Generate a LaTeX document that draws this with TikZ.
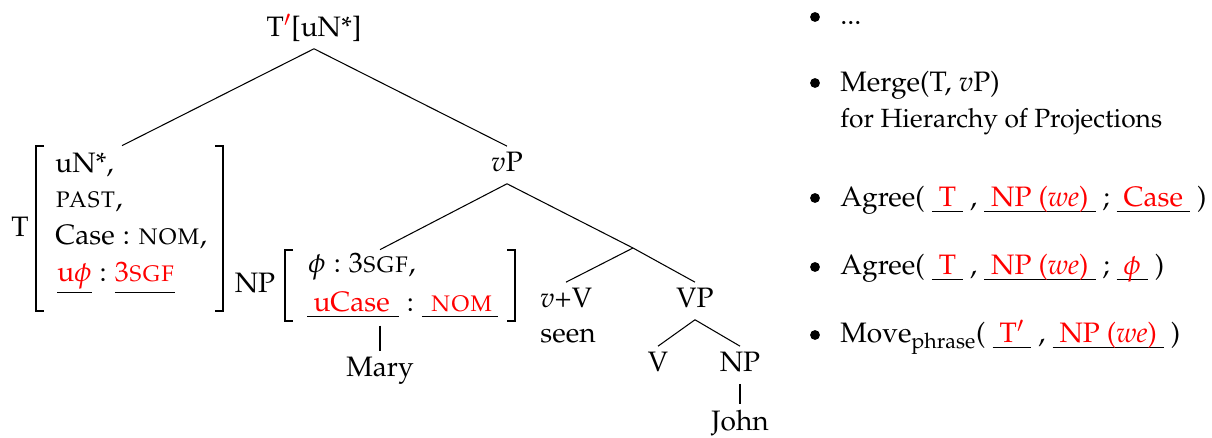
\documentclass[tikz,border=0pt]{standalone}
\usepackage[T1]{fontenc}
\usepackage{mathpazo}
\usepackage{xcolor}
\usetikzlibrary{fit}
\definecolor{hred}{RGB}{255,0,0}
\newcommand\fs{\fontsize{16}{19}\selectfont}
\newcommand\rd[1]{\textcolor{hred}{#1}}
\newcommand\uln[2][2.6pt]{\setbox0\hbox{#2}\rlap{\rule[-#1]{\wd0}{0.45pt}}\box0\relax}
\tikzset{
  tn/.style={anchor=base, text height=13pt, text depth=5pt, inner sep=1.5pt},
  txt/.style={anchor=base west, inner sep=0pt},
  edge/.style={line width=0.6pt},
  brk/.style={line width=1pt},
  bul/.style={circle, fill, inner sep=0pt, minimum size=5.6pt},
  box/.style={inner sep=0pt}
}
\begin{document}
\begin{tikzpicture}[x=0.02cm,y=-0.02cm, every node/.style={font=\fs}]
\useasboundingbox (0,0) rectangle (1212,438);
% ---- tree
\node[tn] (top) at (314,37) {T\rd{$'$}[uN*]};
\node[tn] (vP) at (507,172) {$v$P};
\coordinate (vbar) at (633,248);
\node[tn] (vV) at (566,308) {$v$+V};
\node[tn] (seen) at (568,342) {seen};
\node[tn] (VP) at (695,308) {VP};
\node[tn] (V) at (658,372) {V};
\node[tn] (NPj) at (740,372) {NP};
\node[tn] (John) at (740,430) {John};
% ---- T feature matrix
\node[tn] (Tl) at (20,237) {T};
\node[txt] (t1) at (55,173) {uN*,};
\node[txt] (t2) at (55,208) {\textsc{past},};
\node[txt] (t3) at (55,245) {Case${}:{}$\textsc{nom},};
\node[txt] (t4) at (57,282) {\uln[6.3pt]{\rd{u$\phi$}}${}:{}$\uln[6.3pt]{\rd{3\textsc{sgf}}}};
\draw[brk] (44,146) -- (36,146) -- (36,311) -- (44,311);
\draw[brk] (215,146) -- (223,146) -- (223,311) -- (215,311);
\coordinate (Tnw) at (21,146);
\coordinate (Tse) at (223,311);
\node[box, fit=(Tnw)(Tse)] (Tm) {};
% ---- NP feature matrix
\node[tn] (NPl) at (255,293) {NP};
\node[txt] (n1) at (308,273) {$\phi{}:{}$3\textsc{sgf},};
\node[txt] (n2) at (307,312) {\uln{\hspace{3.5pt}\rd{uCase}\hspace{5pt}}${}:{}$\uln{\hspace{5pt}\rd{\textsc{nom}}\hspace{3pt}}};
\draw[brk] (293,250) -- (285,250) -- (285,321) -- (293,321);
\draw[brk] (507,250) -- (515,250) -- (515,321) -- (507,321);
\coordinate (Nnw) at (245,250);
\coordinate (Nse) at (515,321);
\node[box, fit=(Nnw)(Nse)] (NPm) {};
\node[tn] (Mary) at (380,377) {Mary};
% ---- connectors
\draw[edge] (top.south) -- (Tm.north);
\draw[edge] (top.south) -- (vP.north);
\draw[edge] (vP.south) -- (NPm.north);
\draw[edge] (vP.south) -- (vbar);
\draw[edge] (vbar) -- (vV.north);
\draw[edge] (vbar) -- (VP.north);
\draw[edge] (VP.south) -- (V.north);
\draw[edge] (VP.south) -- (NPj.north);
\draw[edge] (NPj.south) -- (John.north);
\draw[edge] ([yshift=-2.5pt]NPm.south) -- (Mary.north);
% ---- list
\node[bul] (b1) at (815,17) {};
\node[bul] (b2) at (815,83) {};
\node[bul] (b3) at (815,198) {};
\node[bul] (b4) at (815,267) {};
\node[bul] (b5) at (815,335) {};
\node[txt] (l1) at (840,25) {...};
\node[txt] (l2) at (840,92) {Merge(T, $v$P)};
\node[txt, font=\fontsize{15}{18}\selectfont] (l2b) at (840,128) {for Hierarchy of Projections};
\node[txt] (l3) at (840,207) {Agree( \uln{\ \rd{T}\ } , \uln{\ \rd{NP (\emph{we})}\ } ; \uln{\ \rd{Case}\ } )};
\node[txt] (l4) at (840,275) {Agree( \uln{\ \rd{T}\ } , \uln{\ \rd{NP (\emph{we})}\ } ; \uln{\ \rd{$\phi$}\ } )};
\node[txt] (l5) at (840,343) {Move\textsubscript{phrase}( \uln{\ \rd{T$'$}\ } , \uln{\ \rd{NP (\emph{we})}\ } )};
\end{tikzpicture}
\end{document}
